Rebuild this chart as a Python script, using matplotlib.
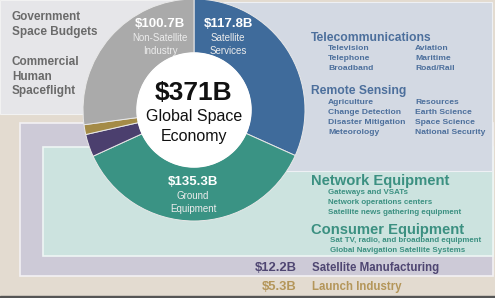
import matplotlib.pyplot as plt
from matplotlib.patches import Rectangle, Circle

plt.rcParams['font.family'] = ['Liberation Sans', 'DejaVu Sans']

# segment data, clockwise from the top
segments = ['Satellite Services', 'Ground Equipment', 'Satellite Manufacturing',
            'Launch Industry', 'Non-Satellite Industry']
values = [117.8, 135.3, 12.2, 5.3, 100.7]
total_label = '$371B'

telecom_items = [['Television', 'Telephone', 'Broadband'],
                 ['Aviation', 'Maritime', 'Road/Rail']]
sensing_items = [['Agriculture', 'Change Detection', 'Disaster Mitigation', 'Meteorology'],
                 ['Resources', 'Earth Science', 'Space Science', 'National Security']]
network_items = ['Gateways and VSATs', 'Network operations centers',
                 'Satellite news gathering equipment']
consumer_items = ['Sat TV, radio, and broadband equipment',
                  'Global Navigation Satellite Systems']

W, H = 495, 298
fig = plt.figure(figsize=(W / 100, H / 100), dpi=100)
ax = fig.add_axes([0, 0, 1, 1])

# donut (clockwise from top on an inverted y axis)
cx, cy, R, r_in = 194, 110, 111, 57
pie_colors = ['#3f6b9b', '#3a9384', '#4b3f6e', '#a48b47', '#aaaaaa']
wedges, _ = ax.pie(values, colors=pie_colors, startangle=-90, counterclock=True,
                   center=(cx, cy), radius=R, frame=True,
                   wedgeprops=dict(width=R - r_in, edgecolor='#e8e8e8', linewidth=0.7))
for w in wedges:
    w.set_zorder(6)

ax.set_xlim(0, W)
ax.set_ylim(H, 0)
ax.set_aspect('auto')
ax.axis('off')

# background panels
ax.add_patch(Rectangle((0, 0), W, H, color='#e3dbd0', zorder=0))
ax.add_patch(Rectangle((0, 0), 193, 114, facecolor='#e6e6e9', edgecolor='#f2f2f2', lw=0.8, zorder=1))
ax.add_patch(Rectangle((20, 123), 473, 153, facecolor='#cdcad7', edgecolor='#f3f1f4', lw=1.2, zorder=2))
ax.add_patch(Rectangle((43, 147), 450, 109, facecolor='#cce3df', edgecolor='#eef6f4', lw=1.2, zorder=3))
ax.add_patch(Rectangle((193, 2), 299, 169, facecolor='#d3d9e3', edgecolor='#eef0f4', lw=0.8, zorder=4))
ax.add_patch(Rectangle((0, 296), W, 2, color='#555555', zorder=5))
ax.add_patch(Circle((cx, cy), r_in, color='white', zorder=7))

ax.text(cx, 93, total_label, ha='center', va='center', fontsize=19, fontweight='bold', color='#111111', zorder=8)
ax.text(cx, 117, 'Global Space', ha='center', va='center', fontsize=11.5, color='#111111', zorder=8)
ax.text(cx, 136, 'Economy', ha='center', va='center', fontsize=11.5, color='#111111', zorder=8)

# labels on the wedges
def wedge_label(x, y, v, l1, l2):
    ax.text(x, y, f'${v}B', ha='center', va='center', fontsize=9.5, fontweight='bold', color='white', zorder=8)
    ax.text(x, y + 14, l1, ha='center', va='center', fontsize=7, color='#ececec', zorder=8)
    ax.text(x, y + 27, l2, ha='center', va='center', fontsize=7, color='#ececec', zorder=8)

wedge_label(160, 24, values[4], 'Non-Satellite', 'Industry')
wedge_label(228, 24, values[0], 'Satellite', 'Services')
wedge_label(193, 182, values[1], 'Ground', 'Equipment')

# left side text
grey_txt = '#6a6a6a'
for y, s in [(17, 'Government'), (32, 'Space Budgets'), (62, 'Commercial'),
             (77, 'Human'), (91, 'Spaceflight')]:
    ax.text(12, y, s, ha='left', va='center', fontsize=8.5, fontweight='bold', color=grey_txt, zorder=8)

# right side lists
blue_txt = '#4c6f9c'
teal_txt = '#3b9081'
hx, c1, c2 = 311, 328, 415
ax.text(hx, 38, 'Telecommunications', fontsize=8.7, fontweight='bold', color=blue_txt, va='center', zorder=8)
for i in range(3):
    ax.text(c1, 49 + i * 10, telecom_items[0][i], fontsize=6.1, fontweight='bold', color=blue_txt, va='center', zorder=8)
    ax.text(c2, 49 + i * 10, telecom_items[1][i], fontsize=6.1, fontweight='bold', color=blue_txt, va='center', zorder=8)
ax.text(hx, 91, 'Remote Sensing', fontsize=8.7, fontweight='bold', color=blue_txt, va='center', zorder=8)
for i in range(4):
    ax.text(c1, 102 + i * 10, sensing_items[0][i], fontsize=6.1, fontweight='bold', color=blue_txt, va='center', zorder=8)
    ax.text(c2, 102 + i * 10, sensing_items[1][i], fontsize=6.1, fontweight='bold', color=blue_txt, va='center', zorder=8)

ax.text(hx, 181, 'Network Equipment', fontsize=10.6, fontweight='bold', color=teal_txt, va='center', zorder=8)
for i, s in enumerate(network_items):
    ax.text(c1, 192 + i * 10, s, fontsize=5.7, fontweight='bold', color=teal_txt, va='center', zorder=8)
ax.text(hx, 230, 'Consumer Equipment', fontsize=10.6, fontweight='bold', color=teal_txt, va='center', zorder=8)
for i, s in enumerate(consumer_items):
    ax.text(c1 + 2, 241 + i * 10, s, fontsize=5.7, fontweight='bold', color=teal_txt, va='center', zorder=8)

# bottom bands
purple_txt = '#4f4672'
gold_txt = '#b4965a'
ax.text(297, 268, f'${values[2]}B', ha='right', va='center', fontsize=9.4, fontweight='bold', color=purple_txt, zorder=8)
ax.text(312, 268, segments[2], ha='left', va='center', fontsize=8.3, fontweight='bold', color=purple_txt, zorder=8)
ax.text(297, 287, f'${values[3]}B', ha='right', va='center', fontsize=9.4, fontweight='bold', color=gold_txt, zorder=8)
ax.text(312, 287, segments[3], ha='left', va='center', fontsize=8.3, fontweight='bold', color=gold_txt, zorder=8)

fig.savefig('out.png', dpi=100)
